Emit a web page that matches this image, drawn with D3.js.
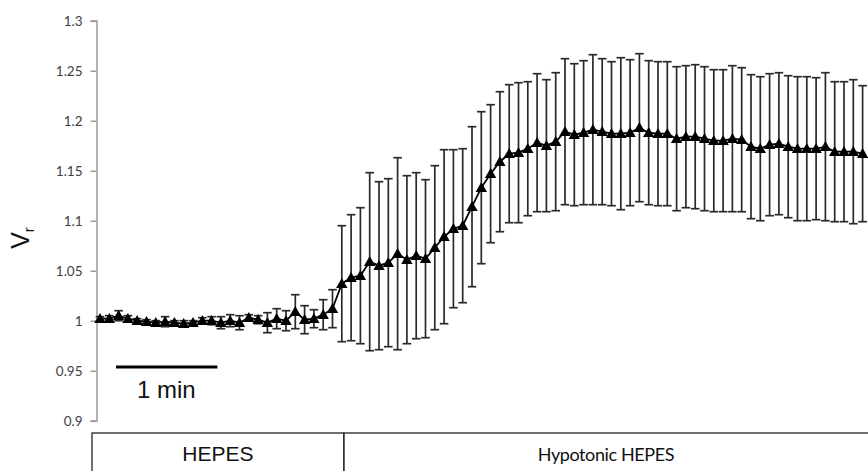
<!DOCTYPE html>
<html>
<head>
<meta charset="utf-8">
<script src="https://cdn.jsdelivr.net/npm/d3@7"></script>
<style>
  html, body { margin: 0; padding: 0; background: #fff; }
  svg { display: block; }
</style>
</head>
<body>
<svg id="chart" width="868" height="471"></svg>
<script>
// Relative cell volume (Vr) over time, mean ± error, sampled at regular intervals
const vrMean = [
  1.002, 1.002, 1.005, 1.002, 1.000, 0.999, 0.998, 0.999, 0.998, 0.997,
  0.998, 1.000, 1.000, 0.998, 1.000, 0.998, 1.003, 1.001, 0.998, 1.002,
  1.000, 1.009, 1.001, 1.002, 1.006, 1.012, 1.037, 1.043, 1.045, 1.059,
  1.055, 1.058, 1.067, 1.061, 1.065, 1.062, 1.073, 1.084, 1.092, 1.095,
  1.114, 1.133, 1.147, 1.159, 1.167, 1.168, 1.172, 1.178, 1.175, 1.179,
  1.189, 1.186, 1.188, 1.191, 1.189, 1.187, 1.187, 1.188, 1.193, 1.188,
  1.187, 1.187, 1.182, 1.184, 1.184, 1.182, 1.180, 1.180, 1.182, 1.181,
  1.174, 1.172, 1.176, 1.177, 1.174, 1.172, 1.172, 1.172, 1.174, 1.169,
  1.169, 1.169, 1.167
];
const vrErr = [
  0.002, 0.003, 0.005, 0.003, 0.002, 0.002, 0.002, 0.005, 0.002, 0.003,
  0.002, 0.003, 0.004, 0.006, 0.006, 0.007, 0.003, 0.004, 0.010, 0.010,
  0.010, 0.017, 0.014, 0.009, 0.015, 0.019, 0.058, 0.063, 0.068, 0.089,
  0.084, 0.084, 0.096, 0.084, 0.083, 0.079, 0.082, 0.087, 0.079, 0.077,
  0.080, 0.076, 0.069, 0.070, 0.069, 0.070, 0.067, 0.069, 0.066, 0.069,
  0.073, 0.071, 0.072, 0.075, 0.073, 0.072, 0.076, 0.073, 0.074, 0.072,
  0.072, 0.072, 0.072, 0.071, 0.072, 0.072, 0.071, 0.071, 0.073, 0.072,
  0.072, 0.072, 0.071, 0.071, 0.071, 0.072, 0.072, 0.071, 0.074, 0.070,
  0.070, 0.072, 0.068
];
const yTickValues = [0.9, 0.95, 1, 1.05, 1.1, 1.15, 1.2, 1.25, 1.3];
const yTickLabels = ["0.9", "0.95", "1", "1.05", "1.1", "1.15", "1.2", "1.25", "1.3"];
const phaseLabels = ["HEPES", "Hypotonic HEPES"];
const phaseStart = [0, 26];   // sample index at which each solution starts
const scaleBarSamples = 10.9; // samples per minute
const scaleBarText = "1 min";

const svg = d3.select("#chart");
const data = vrMean.map((m, i) => ({ i, m, e: vrErr[i] }));

const x = d3.scaleLinear().domain([0, vrMean.length - 1]).range([100, 862.6]);
const y = d3.scaleLinear().domain([0.9, 1.3]).range([420.7, 20.7]);

// y axis
const yAxis = d3.axisLeft(y)
  .tickValues(yTickValues)
  .tickFormat((d, k) => yTickLabels[k])
  .tickSize(6)
  .tickPadding(8);
const gy = svg.append("g")
  .attr("transform", "translate(96.5,0)")
  .call(yAxis);
gy.select(".domain").attr("stroke", "#8c8c8c").attr("stroke-width", 1.3);
gy.selectAll(".tick line").attr("stroke", "#8c8c8c").attr("stroke-width", 1.3);
gy.selectAll(".tick text")
  .attr("fill", "#404040")
  .style("font-family", "Lato, 'Open Sans', sans-serif")
  .style("font-size", "13.5px");

// y axis title: V with subscript r
const yTitle = svg.append("text")
  .attr("transform", "translate(29,238) rotate(-90)")
  .attr("text-anchor", "middle")
  .style("font-family", "'Liberation Sans', Arial, sans-serif")
  .style("font-size", "25px")
  .attr("fill", "#111");
yTitle.append("tspan").text("V");
yTitle.append("tspan").attr("dy", 5).style("font-size", "15px").text("r");

// error bars
const cap = 4.3;
const eb = svg.append("g").attr("stroke", "#2a2a2a").attr("stroke-width", 1.7);
eb.selectAll("line.v").data(data).join("line")
  .attr("x1", d => x(d.i)).attr("x2", d => x(d.i))
  .attr("y1", d => y(d.m + d.e)).attr("y2", d => y(d.m - d.e));
eb.selectAll("line.t").data(data).join("line")
  .attr("x1", d => x(d.i) - cap).attr("x2", d => x(d.i) + cap)
  .attr("y1", d => y(d.m + d.e)).attr("y2", d => y(d.m + d.e));
eb.selectAll("line.b").data(data).join("line")
  .attr("x1", d => x(d.i) - cap).attr("x2", d => x(d.i) + cap)
  .attr("y1", d => y(d.m - d.e)).attr("y2", d => y(d.m - d.e));

// mean line
svg.append("path")
  .datum(data)
  .attr("fill", "none")
  .attr("stroke", "#000")
  .attr("stroke-width", 1.8)
  .attr("d", d3.line().x(d => x(d.i)).y(d => y(d.m)));

// triangle markers
const tri = d3.symbol().type(d3.symbolTriangle).size(56);
svg.append("g").selectAll("path").data(data).join("path")
  .attr("transform", d => `translate(${x(d.i)},${y(d.m) + 0.9})`)
  .attr("d", tri)
  .attr("fill", "#000");

// time scale bar
const sbY = 367;
svg.append("line")
  .attr("x1", 116).attr("x2", 116 + (x(scaleBarSamples) - x(0)))
  .attr("y1", sbY).attr("y2", sbY)
  .attr("stroke", "#000").attr("stroke-width", 3);
svg.append("text")
  .attr("x", 137).attr("y", 398)
  .style("font-family", "'Liberation Sans', Arial, sans-serif")
  .style("font-size", "24px")
  .attr("fill", "#111")
  .text(scaleBarText);

// solution boxes under the trace
const boxTop = 433, boxLeft = 92;
const boundaries = [boxLeft, x(phaseStart[1]) + 2, 868 + 10];
const boxes = svg.append("g");
phaseLabels.forEach((lab, k) => {
  boxes.append("rect")
    .attr("x", boundaries[k]).attr("y", boxTop)
    .attr("width", boundaries[k + 1] - boundaries[k]).attr("height", 60)
    .attr("fill", "none").attr("stroke", "#333").attr("stroke-width", 1.4);
  boxes.append("text")
    .attr("x", (boundaries[k] + Math.min(boundaries[k + 1], 868)) / 2)
    .attr("y", 461)
    .attr("text-anchor", "middle")
    .style("font-family", k === 0 ? "'Liberation Sans', Arial, sans-serif" : "Lato, sans-serif")
    .style("font-size", k === 0 ? "21px" : "18px")
    .style("letter-spacing", k === 0 ? "0px" : "-0.4px")
    .attr("fill", "#111")
    .text(lab);
});
</script>
</body>
</html>
